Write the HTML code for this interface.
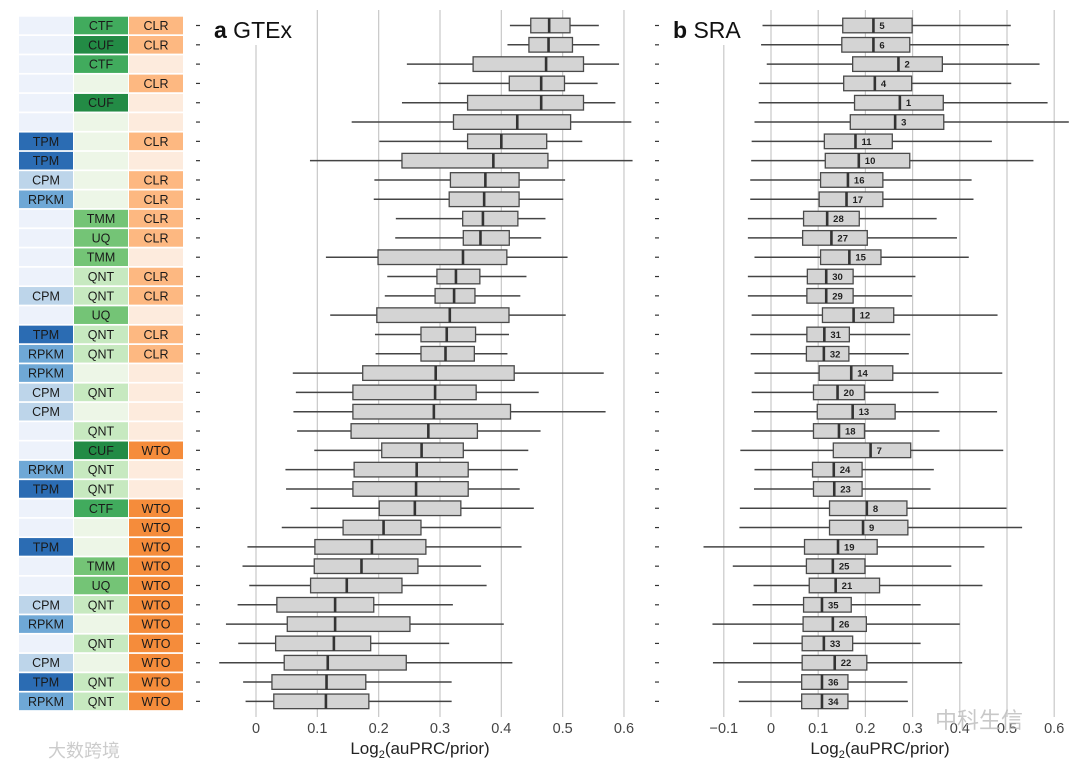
<!DOCTYPE html>
<html><head><meta charset="utf-8"><style>
body{margin:0;background:#fff;width:1080px;height:769px;overflow:hidden;font-family:"Liberation Sans","Noto Sans CJK SC",sans-serif}
svg{position:absolute;left:0;top:0}
</style></head><body>
<svg id="chart" width="1080" height="769"></svg>
<script>
const col1=["","","","","","","TPM","TPM","CPM","RPKM","","","","","CPM","","TPM","RPKM","RPKM","CPM","CPM","","","RPKM","TPM","","","TPM","","","CPM","RPKM","","CPM","TPM","RPKM"];
const col2=["CTF","CUF","CTF","","CUF","","","","","","TMM","UQ","TMM","QNT","QNT","UQ","QNT","QNT","","QNT","","QNT","CUF","QNT","QNT","CTF","","","TMM","UQ","QNT","","QNT","","QNT","QNT"];
const col3=["CLR","CLR","","CLR","","","CLR","","CLR","CLR","CLR","CLR","","CLR","CLR","","CLR","CLR","","","","","WTO","","","WTO","WTO","WTO","WTO","WTO","WTO","WTO","WTO","WTO","WTO","WTO"];
const gtex=[[.414,.448,.478,.512,.559],[.410,.445,.477,.516,.560],[.246,.354,.473,.534,.592],[.297,.413,.465,.503,.557],[.238,.345,.465,.534,.586],[.156,.322,.426,.513,.612],[.201,.345,.400,.474,.532],[.088,.238,.387,.476,.614],[.193,.317,.374,.429,.504],[.192,.315,.372,.429,.501],[.228,.337,.370,.427,.472],[.227,.338,.366,.413,.465],[.114,.199,.3375,.409,.508],[.214,.295,.326,.365,.441],[.210,.292,.323,.357,.431],[.121,.197,.316,.4125,.505],[.194,.269,.311,.358,.4125],[.195,.269,.309,.356,.410],[.060,.174,.293,.421,.567],[.065,.158,.292,.359,.461],[.061,.158,.290,.415,.570],[.067,.155,.281,.361,.464],[.095,.205,.270,.338,.444],[.048,.160,.262,.346,.427],[.049,.158,.261,.346,.430],[.089,.201,.259,.334,.453],[.042,.142,.208,.269,.399],[-.014,.096,.189,.277,.433],[-.022,.095,.172,.264,.367],[-.011,.089,.148,.238,.376],[-.030,.034,.129,.192,.321],[-.049,.051,.129,.251,.404],[-.029,.032,.127,.187,.315],[-.060,.046,.117,.245,.418],[-.021,.026,.115,.179,.319],[-.017,.029,.114,.184,.319]];
const sra=[[-.018,.152,.217,.299,.508],[-.021,.150,.217,.294,.504],[-.009,.173,.270,.363,.569],[-.025,.154,.220,.298,.509],[-.026,.177,.273,.365,.586],[-.035,.168,.263,.366,.631],[-.041,.113,.179,.257,.468],[-.042,.115,.186,.294,.556],[-.044,.105,.163,.237,.425],[-.044,.102,.160,.237,.429],[-.049,.069,.119,.187,.351],[-.049,.067,.128,.204,.394],[-.035,.105,.166,.233,.419],[-.049,.077,.117,.174,.306],[-.049,.076,.117,.174,.299],[-.041,.109,.175,.260,.480],[-.044,.076,.113,.166,.295],[-.043,.075,.112,.165,.292],[-.035,.102,.170,.258,.490],[-.041,.090,.141,.198,.355],[-.036,.098,.173,.263,.479],[-.041,.090,.144,.198,.357],[-.065,.132,.211,.296,.492],[-.035,.088,.133,.193,.345],[-.036,.090,.134,.193,.338],[-.066,.124,.203,.288,.499],[-.067,.124,.195,.290,.532],[-.143,.071,.142,.225,.452],[-.081,.075,.131,.199,.382],[-.037,.081,.137,.230,.448],[-.039,.069,.108,.170,.317],[-.124,.068,.131,.202,.400],[-.038,.066,.112,.173,.317],[-.123,.066,.135,.203,.405],[-.070,.065,.108,.163,.289],[-.068,.065,.108,.163,.290]];
const sraRank=["5","6","2","4","1","3","11","10","16","17","28","27","15","30","29","12","31","32","14","20","13","18","7","24","23","8","9","19","25","21","35","26","33","22","36","34"];
const ticksA=[0,0.1,0.2,0.3,0.4,0.5,0.6];
const ticksB=[-0.1,0,0.1,0.2,0.3,0.4,0.5,0.6];

const NS="http://www.w3.org/2000/svg";
const svg=document.getElementById('chart');
function mk(tag,attrs,parent){const e=document.createElementNS(NS,tag);for(const k in attrs)e.setAttribute(k,attrs[k]);(parent||svg).appendChild(e);return e;}
const rowY=i=>25.5+i*19.31;
const xA=v=>256+v*613.3;
const xB=v=>771+v*472;
const c1={"":"#edf2fb","TPM":"#2b6cb3","RPKM":"#6fa8d6","CPM":"#bdd5ea"};
const c2={"":"#edf6e7","CTF":"#41ab5d","CUF":"#238b45","TMM":"#74c476","UQ":"#74c476","QNT":"#c7e9c0"};
const c3={"":"#fdebdd","CLR":"#fdb881","WTO":"#f58c3b"};
// table
const tbl=mk('g',{});


[[col1,c1,19],[col2,c2,74],[col3,c3,129]].forEach(([col,cm,x0],ci)=>{
  col.forEach((lab,i)=>{
    const y=rowY(i)-8.8;
    const r=mk('rect',{x:x0,y:y,width:54,height:17.6,fill:cm[lab]},tbl);
    
    
    if(lab){const t=mk('text',{x:x0+27,y:rowY(i)+4.5,'text-anchor':'middle','font-size':12.5,fill:'#1a1a1a'},tbl);t.textContent=lab;
      
      }
  });
});
function panel(data,xf,ticks,dashX,titleX,bold,name,labels,axisCx,firstGridTop){
  const g=mk('g',{});
  
  
  ticks.forEach((t,k)=>{
    const x=xf(t);
    const l=mk('line',{x1:x,x2:x,y1:k==0?firstGridTop:10,y2:717,stroke:'#c8c8c8','stroke-width':1.2},g);
    
    
    const tx=mk('text',{x:x,y:733,'text-anchor':'middle','font-size':14.5,fill:'#444'},g);
    tx.textContent=(t<0?'\u2212'+Math.abs(t):String(t));
    
    
  });
  const ti=mk('text',{x:titleX,y:38,'font-size':23,fill:'#111'},g);
  ti.innerHTML='<tspan font-weight="bold">'+bold+'</tspan> '+(name.startsWith('gtex')?'GTEx':'SRA');
  
  
  const at=mk('text',{x:axisCx,y:754,'text-anchor':'middle','font-size':17,fill:'#222'},g);
  at.innerHTML='Log<tspan font-size="11" dy="4">2</tspan><tspan dy="-4">(auPRC/prior)</tspan>';
  
  
  data.forEach((d,i)=>{
    const y=rowY(i);
    const dash=mk('line',{x1:dashX,x2:dashX+4,y1:y,y2:y,stroke:'#333','stroke-width':1.2},g);
    
    
    const w=mk('line',{x1:xf(d[0]),x2:xf(d[4]),y1:y,y2:y,stroke:'#444','stroke-width':1.5},g);
    
    
    const b=mk('rect',{x:xf(d[1]),y:y-7.3,width:xf(d[3])-xf(d[1]),height:14.6,fill:'#d4d4d4',stroke:'#4a4a4a','stroke-width':1.3},g);
    
    
    const m=mk('line',{x1:xf(d[2]),x2:xf(d[2]),y1:y-7.3,y2:y+7.3,stroke:'#333','stroke-width':2.6},g);
    
    
    if(labels){const t=mk('text',{x:xf(d[2])+6,y:y+3.5,'font-size':9.5,'font-weight':'bold',fill:'#222'},g);t.textContent=labels[i];
      
      }
  });
}
panel(gtex,xA,ticksA,196,214,'a','gtex-panel',null,420,45);
panel(sra,xB,ticksB,655,673,'b','sra-panel',sraRank,880,45);
const wm=mk('text',{x:935,y:728,'font-size':22,fill:'#bbb',opacity:0.8});wm.textContent='中科生信';


const wm2=mk('text',{x:48,y:757,'font-size':18,fill:'#ccc'});wm2.textContent='大数跨境';


</script>
</body></html>
